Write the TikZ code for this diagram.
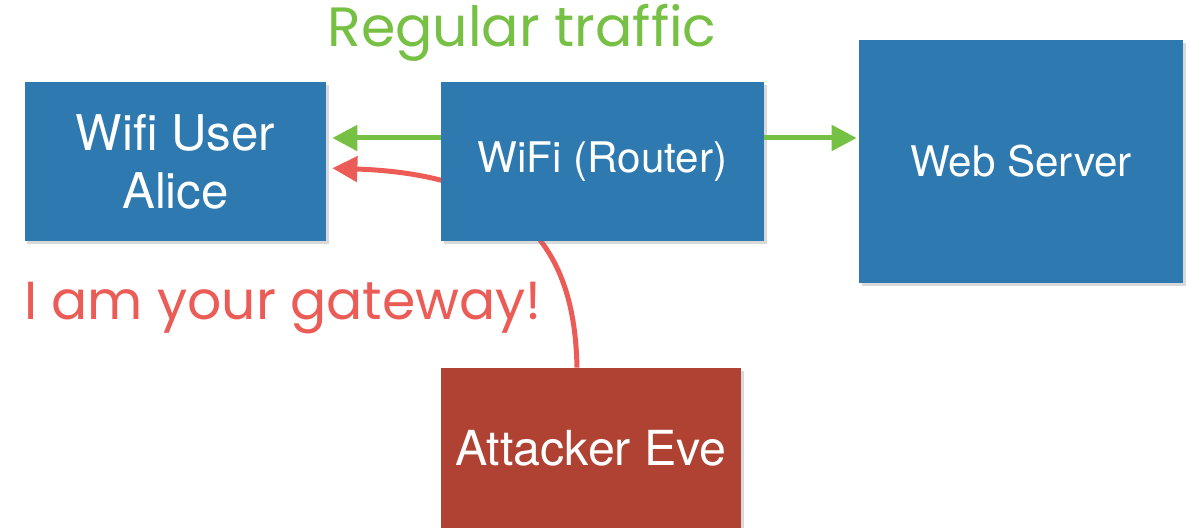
\documentclass[tikz,border=0pt]{standalone}
\usepackage{fontspec}
\usetikzlibrary{arrows.meta,shadows,backgrounds}
\setmainfont{TeX Gyre Heros}
\newfontfamily\handfont{Poppins}
\definecolor{boxblue}{RGB}{46,121,176}
\definecolor{evered}{RGB}{175,66,50}
\definecolor{trafficgreen}{RGB}{118,192,67}
\definecolor{attackred}{RGB}{236,92,86}

\begin{document}
\begin{tikzpicture}[x=0.2mm, y=-0.2mm,
  box/.style={fill=boxblue, draw=none, text=white, align=center,
    drop shadow={shadow xshift=0.5mm, shadow yshift=-0.6mm, opacity=0.3}},
  trafficarrow/.style={trafficgreen, line width=1mm,
    -{Triangle[length=5mm, width=5mm]}},
  attackarrow/.style={attackred, line width=1mm,
    -{Triangle[length=5mm, width=5mm]}}]
  \useasboundingbox (0,0) rectangle (1193,528);

  % Boxes
  \node[box, minimum width=60.2mm, minimum height=31.8mm,
    font=\fontsize{28}{33}\selectfont] (alice) at (175.5,161.5) {Wifi User\\Alice};
  \node[box, minimum width=64.6mm, minimum height=31.8mm,
    font=\fontsize{24}{28}\selectfont] (router) at (602.5,161.5) {WiFi (Router)};
  \node[box, minimum width=64.8mm, minimum height=48.6mm,
    font=\fontsize{24}{28}\selectfont] (web) at (1021,161.5) {Web Server};
  \node[box, fill=evered, minimum width=60mm, minimum height=32mm,
    font=\fontsize{27.5}{32}\selectfont] (eve) at (591,448) {\raisebox{-0.8mm}{Attacker Eve}};

  % Fake gateway announcement, passing behind the router
  \begin{scope}[on background layer]
    \draw[attackarrow, shorten >=1.2mm] ([xshift=-2.8mm]eve.north)
      .. controls +(-2,-108) and +(205,7) .. ([yshift=-1.3mm]alice.east);
  \end{scope}

  % Regular traffic
  \draw[trafficarrow, shorten >=1.2mm] ([yshift=4.7mm]router.west) -- ([yshift=4.7mm]alice.east);
  \draw[trafficarrow, shorten >=0.4mm] ([yshift=4.7mm]router.east) -- ([yshift=4.7mm]web.west);

  % Labels
  \node[text=trafficgreen, font=\handfont\fontsize{31.5}{36}\selectfont] (regular) at (522,33) {Regular traffic};
  \node[text=attackred, font=\handfont\fontsize{30.5}{36}\selectfont] (gateway) at (283,308) {I am your gateway!};
\end{tikzpicture}
\end{document}
